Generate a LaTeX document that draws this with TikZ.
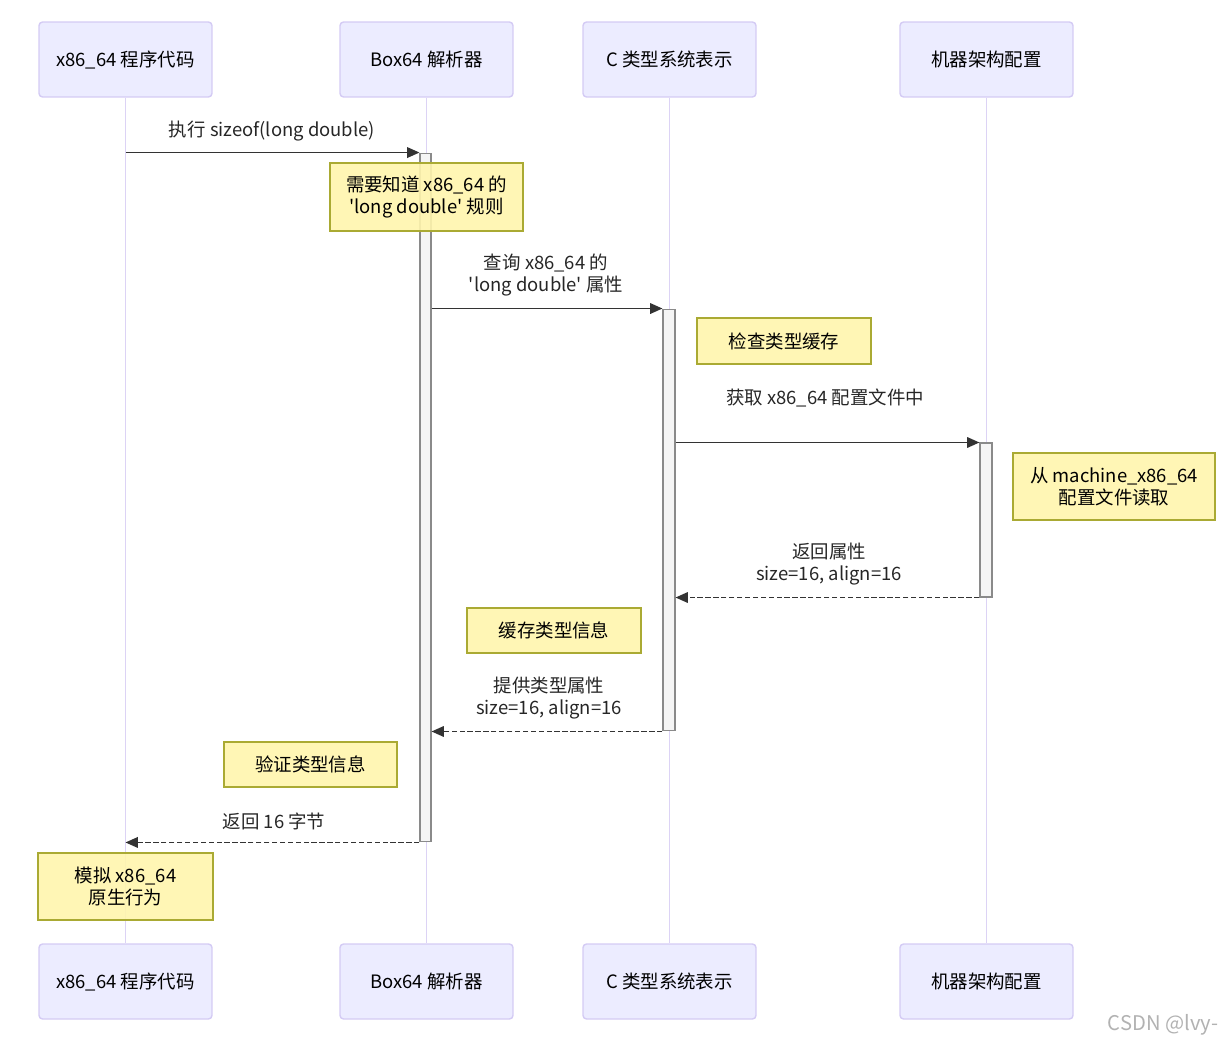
\documentclass[tikz,border=0pt]{standalone}
\usepackage{fontspec}
\setmainfont{Noto Sans CJK SC}
\usetikzlibrary{arrows.meta,positioning}
\definecolor{actfill}{HTML}{ECECFF}
\definecolor{actline}{HTML}{D4CBF4}
\definecolor{lifeline}{HTML}{DCD3F5}
\definecolor{notefill}{HTML}{FFF5AD}
\definecolor{noteline}{HTML}{AAAA33}
\definecolor{barline}{HTML}{8A8A8A}
\definecolor{msgline}{HTML}{333333}
\newcommand\apos{\textquotesingle}

\begin{document}
\begin{tikzpicture}[x=0.02cm, y=-0.02cm,
    actor/.style={draw=actline, fill=actfill, rounded corners=2pt, line width=0.8pt,
                  minimum width=3.46cm, minimum height=1.5cm, font=\fontsize{10.5}{12.5}\selectfont},
    life/.style={draw=lifeline, line width=1.1pt},
    actbar/.style={draw=barline, fill=black!4, line width=0.6pt, inner sep=0pt},
    note/.style={draw=noteline, fill=notefill, fill opacity=0.9, text opacity=1, line width=0.8pt,
                 align=center, inner sep=0pt, font=\fontsize{10.5}{12.5}\selectfont},
    msg/.style={font=\fontsize{10.5}{12.5}\selectfont, align=center, text=black!85},
    call/.style={draw=msgline, line width=0.9pt, -{Triangle[length=7pt,width=6pt]}},
    reply/.style={call, dash pattern=on 3pt off 1.5pt},
]
  \useasboundingbox (0,0) rectangle (1228,1045);

  % participants, top and bottom
  \node[actor] (t1) at (125.5,59.5)  {x86\_64 程序代码};
  \node[actor] (t2) at (426.5,59.5)  {Box64 解析器};
  \node[actor] (t3) at (669.5,59.5)  {C 类型系统表示};
  \node[actor] (t4) at (986.5,59.5)  {机器架构配置};
  \node[actor] (b1) at (125.5,981.5) {x86\_64 程序代码};
  \node[actor] (b2) at (426.5,981.5) {Box64 解析器};
  \node[actor] (b3) at (669.5,981.5) {C 类型系统表示};
  \node[actor] (b4) at (986.5,981.5) {机器架构配置};

  \foreach \i in {1,...,4}
    \draw[life] (t\i.south) -- (b\i.north);

  % activations
  \node[actbar, minimum width=0.22cm, minimum height=13.78cm] (ab) at (425.5,497.5) {};
  \node[actbar, minimum width=0.24cm, minimum height=8.44cm]  (ac) at (669,520)     {};
  \node[actbar, minimum width=0.24cm, minimum height=3.08cm]  (am) at (986,520)     {};

  % notes
  \node[note, minimum width=3.86cm, minimum height=1.36cm] (n1) at (426.5,197)
    {需要知道 x86\_64 的\\\apos long double\apos{} 规则};
  \node[note, minimum width=3.48cm, minimum height=0.92cm] (n2) at (784,341) {检查类型缓存};
  \node[note, minimum width=4.04cm, minimum height=1.34cm] (n3) at (1114,486.5)
    {从 machine\_x86\_64\\配置文件读取};
  \node[note, minimum width=3.48cm, minimum height=0.90cm] (n4) at (554,630.5) {缓存类型信息};
  \node[note, minimum width=3.46cm, minimum height=0.90cm] (n5) at (310.5,764.5) {验证类型信息};
  \node[note, minimum width=3.50cm, minimum height=1.34cm] (n6) at (125.5,886.5)
    {模拟 x86\_64\\原生行为};

  % messages
  \node[msg] (l1) at (272,131) {执行 sizeof(long double)};
  \draw[call] (t1.south |- ab.north) -- (ab.north west);

  \node[msg] (l2) at (546,275) {查询 x86\_64 的\\\apos long double\apos{} 属性};
  \draw[call] (ab.east |- ac.north) -- (ac.north west);

  \node[msg] (l3) at (825,398) {获取 x86\_64 配置文件中};
  \draw[call] (ac.east |- am.north) -- (am.north west);

  \node[msg] (l4) at (829,564) {返回属性\\size=16, align=16};
  \draw[reply] (am.south west) -- (ac.east |- am.south);

  \node[msg] (l5) at (549,698) {提供类型属性\\size=16, align=16};
  \draw[reply] (ac.south west) -- (ab.east |- ac.south);

  \node[msg] (l6) at (274,821) {返回 16 字节};
  \draw[reply] (ab.south west) -- (t1.south |- ab.south);

  \node[font=\fontsize{11.5}{13}\selectfont, text=black!30] (wm) at (1163,1025) {CSDN @lvy-};
\end{tikzpicture}
\end{document}
